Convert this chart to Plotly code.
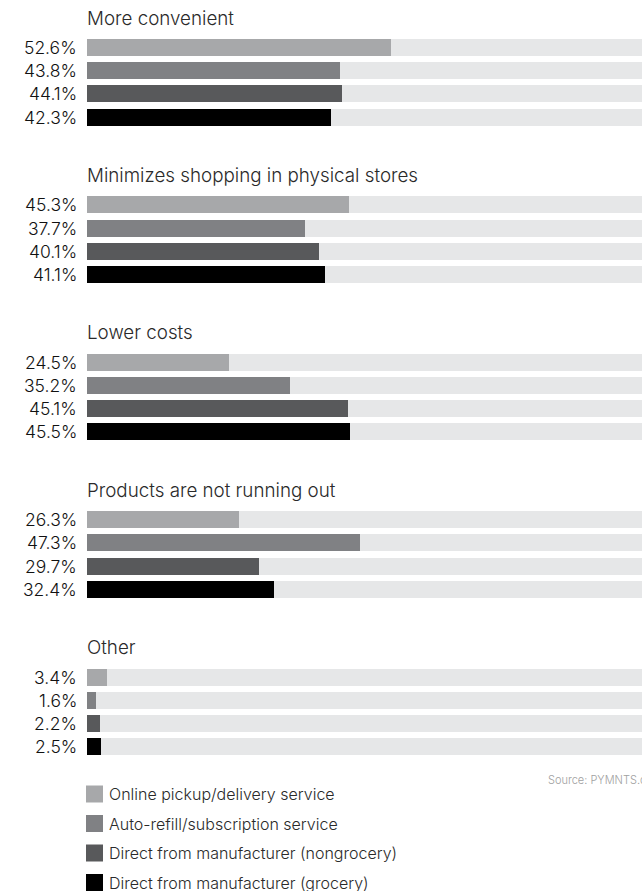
import plotly.graph_objects as go

# Survey reasons and per-channel shares (%)
reasons = [
    "More convenient",
    "Minimizes shopping in physical stores",
    "Lower costs",
    "Products are not running out",
    "Other",
]
series_names = [
    "Online pickup/delivery service",
    "Auto-refill/subscription service",
    "Direct from manufacturer (nongrocery)",
    "Direct from manufacturer (grocery)",
]
online_pickup = [52.6, 45.3, 24.5, 26.3, 3.4]
auto_refill = [43.8, 37.7, 35.2, 47.3, 1.6]
direct_nongrocery = [44.1, 40.1, 45.1, 29.7, 2.2]
direct_grocery = [42.3, 41.1, 45.5, 32.4, 2.5]
series_values = [online_pickup, auto_refill, direct_nongrocery, direct_grocery]
source_text = "Source: PYMNTS.com"

colors = ["#a7a8aa", "#808184", "#58595b", "#000000"]
track_color = "#e6e7e8"
font_family = "Inter, 'Open Sans', sans-serif"

W, H = 642, 891
LEFT = 87
PLOT_W = W - LEFT
GROUP_STEP = 157.4
BAR_STEP = 23.2
FIRST_CENTER = 47.5
BAR_H = 17


def center(g, i):
    return FIRST_CENTER + g * GROUP_STEP + i * BAR_STEP


def px_to_paper(px):
    # horizontal pixel position -> paper fraction of the plot area
    return (px - LEFT) / PLOT_W


fig = go.Figure()

# background tracks (full 100% scale)
ys_all = [center(g, i) for g in range(len(reasons)) for i in range(len(series_names))]
fig.add_trace(go.Bar(
    x=[100] * len(ys_all), y=ys_all, orientation="h", width=BAR_H,
    marker=dict(color=track_color, line=dict(width=0)),
    hoverinfo="skip", showlegend=False,
))

for i, (name, vals, col) in enumerate(zip(series_names, series_values, colors)):
    ys = [center(g, i) for g in range(len(reasons))]
    fig.add_trace(go.Bar(
        x=vals, y=ys, orientation="h", width=BAR_H, name=name,
        marker=dict(color=col, line=dict(width=0)),
        showlegend=False, hovertemplate="%{x:.1f}%<extra>" + name + "</extra>",
    ))

annotations = []
for g, reason in enumerate(reasons):
    annotations.append(dict(
        x=0, y=center(g, 0) - 29.5, xref="x", yref="y", text=reason,
        showarrow=False, xanchor="left", yanchor="middle", xshift=-2,
        font=dict(size=18.8, color="#2a2a2a", family=font_family, weight=300),
    ))
    for i, vals in enumerate(series_values):
        annotations.append(dict(
            x=0, y=center(g, i), xref="x", yref="y", text=f"{vals[g]:.1f}%",
            showarrow=False, xanchor="right", yanchor="middle", xshift=-8,
            font=dict(size=17.5, color="#111111", family=font_family, weight=300),
        ))

# source line
annotations.append(dict(
    x=px_to_paper(546), y=780, xref="paper", yref="y", text=source_text,
    showarrow=False, xanchor="left", yanchor="middle",
    font=dict(size=11, color="#a0a0a0", family=font_family, weight=300),
))

# legend drawn as swatches + labels
shapes = []
LEG_TOP = 794
LEG_STEP = 29.5
for i, (name, col) in enumerate(zip(series_names, colors)):
    yc = LEG_TOP + i * LEG_STEP
    shapes.append(dict(
        type="rect", xref="paper", yref="y",
        x0=px_to_paper(86), x1=px_to_paper(103), y0=yc - 8.5, y1=yc + 8.5,
        fillcolor=col, line=dict(width=0),
    ))
    annotations.append(dict(
        x=px_to_paper(107), y=yc, xref="paper", yref="y", text=name,
        showarrow=False, xanchor="left", yanchor="middle",
        font=dict(size=16, color="#2a2a2a", family=font_family, weight=300),
    ))

fig.update_layout(
    width=W, height=H,
    margin=dict(l=LEFT, r=0, t=0, b=0),
    paper_bgcolor="white", plot_bgcolor="white",
    barmode="overlay", bargap=0,
    xaxis=dict(range=[0, PLOT_W / 5.78], visible=False, fixedrange=True),
    yaxis=dict(range=[H, 0], visible=False, fixedrange=True),
    annotations=annotations, shapes=shapes,
    showlegend=False,
)

fig.write_html("out.html")
